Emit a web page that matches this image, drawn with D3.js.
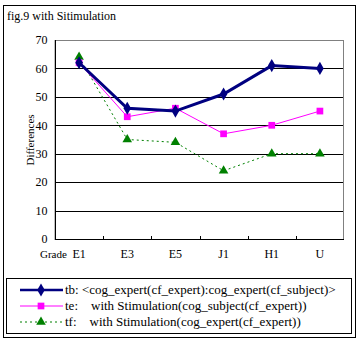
<!DOCTYPE html>
<html><head><meta charset="utf-8">
<script src="https://cdn.jsdelivr.net/npm/d3@7/dist/d3.min.js"></script>
<style>body{margin:0;background:#fff}svg{display:block}</style>
</head><body><svg id="c" width="361" height="343"></svg>
<script>
const categories = ["E1","E3","E5","J1","H1","U"];
const tbValues = [62,46,45,51,61,60];
const teValues = [62,43,46,37,40,45];
const tfValues = [64,35,34,24,30,30];
const yTicks = [0,10,20,30,40,50,60,70];
const seriesNames = ["tb: <cog_expert(cf_expert):cog_expert(cf_subject)>",
  "te:    with Stimulation(cog_subject(cf_expert))",
  "tf:    with Stimulation(cog_expert(cf_expert))"];

const svg = d3.select("#c");
const font = "'Liberation Serif', serif";
const L=55, R=344, T=40, B=239;
svg.append("rect").attr("x",3.5).attr("y",5.5).attr("width",352).attr("height",332)
  .attr("fill","#fff").attr("stroke","#000").attr("stroke-width",1);
svg.append("text").attr("x",7).attr("y",20).attr("font-family",font).attr("font-size",12).text("fig.9 with Sitimulation");

const x = d3.scaleBand().domain(categories).range([L,R]);
const y = d3.scaleLinear().domain([0,70]).range([B,T]);

svg.append("rect").attr("x",L).attr("y",T+0.5).attr("width",R-L-0.5).attr("height",B-T)
  .attr("fill","none").attr("stroke","#808080");
svg.append("g").selectAll("line").data(yTicks.filter(d=>d>0&&d<70)).join("line")
  .attr("x1",L).attr("x2",R-1).attr("y1",d=>Math.round(y(d))+0.5).attr("y2",d=>Math.round(y(d))+0.5)
  .attr("stroke","#000");
const ya = svg.append("g").attr("transform",`translate(${L+0.5},0)`)
  .call(d3.axisLeft(y).tickValues(yTicks).tickSize(0).tickPadding(8));
ya.select(".domain").attr("stroke","#000").attr("d",`M0,${T}V${B+0.5}`);
ya.selectAll("text").attr("font-family",font).attr("font-size",12).attr("fill","#000");
const xa = svg.append("g").attr("transform",`translate(0,${B+0.5})`)
  .call(d3.axisBottom(x).tickSize(0).tickPadding(10));
xa.select(".domain").attr("stroke","#000").attr("d",`M${L},0H${R}`);
xa.selectAll("text").attr("font-family",font).attr("font-size",12).attr("fill","#000");
svg.append("g").selectAll("line").data(categories.slice(1)).join("line")
  .attr("x1",d=>Math.round(x(d))+0.5).attr("x2",d=>Math.round(x(d))+0.5)
  .attr("y1",B).attr("y2",B-3).attr("stroke","#000");
svg.append("text").attr("x",40).attr("y",B+18.5).attr("font-family",font).attr("font-size",11).text("Grade");
svg.append("text").attr("transform",`translate(34,140) rotate(-90)`).attr("text-anchor","middle")
  .attr("font-family",font).attr("font-size",11).text("Differences");

const cx = d => x(d)+x.bandwidth()/2;
const series = [
  {vals:tbValues,color:"#000080",w:3,lw:2.5,dash:null,mark:d3.symbolDiamond,ms:50},
  {vals:teValues,color:"#FF00FF",w:1,lw:1,dash:null,mark:d3.symbolSquare,ms:45},
  {vals:tfValues,color:"#008000",w:1,lw:1,dash:"2,3",mark:d3.symbolTriangle,ms:40}
];
const line = d3.line().x((d,i)=>cx(categories[i])).y(d=>y(d));
[2,1,0].forEach(k=>{
  const s = series[k];
  svg.append("path").attr("d",line(s.vals)).attr("fill","none").attr("stroke",s.color)
    .attr("stroke-width",s.w).attr("stroke-dasharray",s.dash);
  svg.append("g").selectAll("path").data(s.vals).join("path")
    .attr("transform",(d,i)=>`translate(${cx(categories[i])},${y(d)})`)
    .attr("d",d3.symbol().type(s.mark).size(s.ms)).attr("fill",s.color);
});

svg.append("rect").attr("x",6.5).attr("y",278.5).attr("width",345).attr("height",55)
  .attr("fill","#fff").attr("stroke","#000");
const ly=[290,306,322];
series.forEach((s,k)=>{
  svg.append("line").attr("x1",20).attr("x2",63).attr("y1",ly[k]).attr("y2",ly[k])
    .attr("stroke",s.color).attr("stroke-width",s.lw).attr("stroke-dasharray",s.dash);
  svg.append("path").attr("transform",`translate(41,${ly[k]})`)
    .attr("d",d3.symbol().type(s.mark).size(s.ms)).attr("fill",s.color);
  svg.append("text").attr("x",65).attr("y",ly[k]+4).attr("font-family",font).attr("font-size",13)
    .attr("xml:space","preserve").style("white-space","pre").text(seriesNames[k]);
});
</script></body></html>
